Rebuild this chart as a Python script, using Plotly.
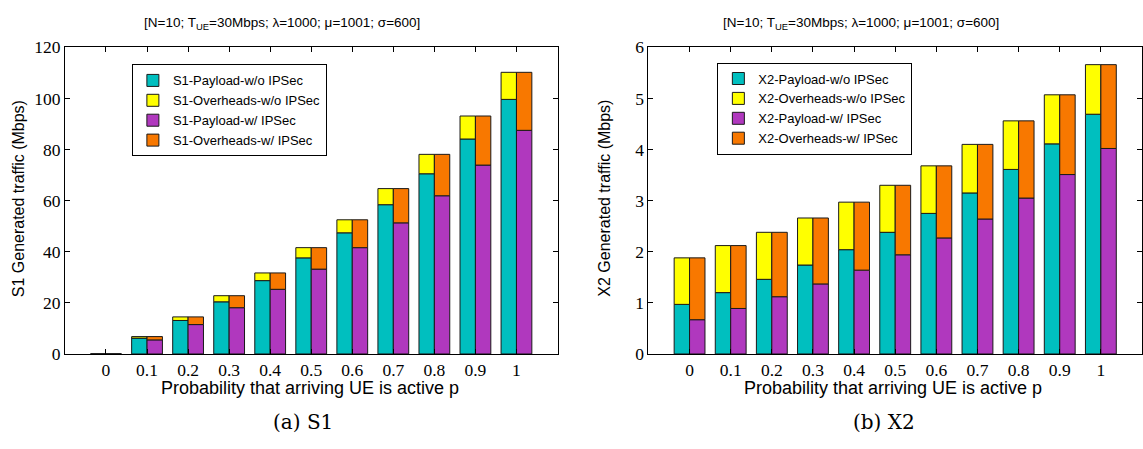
import plotly.graph_objects as go

# Probability that an arriving UE is active
p_values = [0.0, 0.1, 0.2, 0.3, 0.4, 0.5, 0.6, 0.7, 0.8, 0.9, 1.0]
p_labels = ["0", "0.1", "0.2", "0.3", "0.4", "0.5", "0.6", "0.7", "0.8", "0.9", "1"]

# S1 generated traffic (Mbps)
s1_payload_no_ipsec = [0.0, 6.2, 13.1, 20.4, 28.7, 37.6, 47.4, 58.4, 70.5, 84.1, 99.6]
s1_overhead_no_ipsec = [0.0, 0.6, 1.4, 2.4, 3.0, 4.0, 5.1, 6.3, 7.6, 9.0, 10.6]
s1_payload_ipsec = [0.0, 5.5, 11.5, 18.1, 25.3, 33.2, 41.6, 51.3, 61.9, 73.9, 87.5]
s1_overhead_ipsec = [0.0, 1.3, 3.0, 4.7, 6.4, 8.4, 10.9, 13.4, 16.2, 19.2, 22.7]

# X2 generated traffic (Mbps)
x2_payload_no_ipsec = [0.97, 1.20, 1.46, 1.74, 2.04, 2.38, 2.75, 3.15, 3.61, 4.11, 4.69]
x2_overhead_no_ipsec = [0.91, 0.92, 0.92, 0.92, 0.93, 0.92, 0.93, 0.95, 0.95, 0.96, 0.97]
x2_payload_ipsec = [0.67, 0.89, 1.12, 1.37, 1.64, 1.94, 2.27, 2.64, 3.05, 3.51, 4.02]
x2_overhead_ipsec = [1.21, 1.23, 1.26, 1.29, 1.33, 1.36, 1.41, 1.46, 1.51, 1.56, 1.64]

TEAL = "#00BFBF"
YELLOW = "#FFFF00"
PURPLE = "#B038BE"
ORANGE = "#F87800"
EDGE = "#1a1a1a"
BAR_W = 0.0375

W, H = 1143, 449


def add_stack(fig, prefix, xa, ya, legend, pay_no, ovh_no, pay_ip, ovh_ip):
    specs = [
        (f"{prefix}-Payload-w/o IPSec", pay_no, None, -BAR_W, TEAL),
        (f"{prefix}-Overheads-w/o IPSec", ovh_no, pay_no, -BAR_W, YELLOW),
        (f"{prefix}-Payload-w/ IPSec", pay_ip, None, 0.0, PURPLE),
        (f"{prefix}-Overheads-w/ IPSec", ovh_ip, pay_ip, 0.0, ORANGE),
    ]
    for name, vals, base, off, color in specs:
        fig.add_trace(go.Bar(
            x=p_values, y=vals, base=base, name=name,
            width=BAR_W, offset=off,
            marker=dict(color=color, line=dict(color=EDGE, width=1)),
            xaxis=xa, yaxis=ya, legend=legend,
        ))


fig = go.Figure()
add_stack(fig, "S1", "x", "y", "legend",
          s1_payload_no_ipsec, s1_overhead_no_ipsec, s1_payload_ipsec, s1_overhead_ipsec)
add_stack(fig, "X2", "x2", "y2", "legend2",
          x2_payload_no_ipsec, x2_overhead_no_ipsec, x2_payload_ipsec, x2_overhead_ipsec)

y_dom = [(H - 360) / H, (H - 39) / H]
tick_font = dict(family="Liberation Serif", size=17.5, color="black")

axis_common = dict(
    showline=True, linecolor="black", linewidth=1, mirror="allticks",
    ticks="inside", ticklen=5, tickcolor="black", showgrid=False,
    zeroline=False, tickfont=tick_font,
)

legend_style = dict(
    xanchor="left", yanchor="top",
    bgcolor="white", bordercolor="black", borderwidth=1,
    font=dict(family="Liberation Sans", size=13, color="black"),
    tracegroupgap=0, itemwidth=30,
)

fig.update_layout(
    width=W, height=H,
    margin=dict(l=0, r=0, t=0, b=0),
    paper_bgcolor="white", plot_bgcolor="white",
    barmode="overlay",
    showlegend=True,
    xaxis=dict(domain=[65 / W, 558 / W], range=[-0.1, 1.1],
               tickvals=p_values, ticktext=p_labels, anchor="y", **axis_common),
    yaxis=dict(domain=y_dom, range=[0, 120], tickvals=[0, 20, 40, 60, 80, 100, 120],
               anchor="x", **axis_common),
    xaxis2=dict(domain=[649 / W, 1.0], range=[-0.1, 1.1],
                tickvals=p_values, ticktext=p_labels, anchor="y2", **axis_common),
    yaxis2=dict(domain=y_dom, range=[0, 6], tickvals=[0, 1, 2, 3, 4, 5, 6],
                anchor="x2", **axis_common),
    legend=dict(x=132 / W, y=1 - 57 / H, **legend_style),
    legend2=dict(x=718 / W, y=1 - 55 / H, **legend_style),
)

title_text = "[N=10; T<sub>UE</sub>=30Mbps; λ=1000; μ=1001; σ=600]"
xlabel = "Probability that arriving UE is active p"
sans = dict(family="Liberation Sans", color="black")
serif = dict(family="DejaVu Serif", color="black")

annotations = [
    dict(x=282 / W, y=1 - 14 / H, text=title_text, font=dict(size=13.5, **sans)),
    dict(x=862 / W, y=1 - 14 / H, text=title_text, font=dict(size=13.5, **sans)),
    dict(x=310 / W, y=1 - 396 / H, text=xlabel, font=dict(size=18, **sans)),
    dict(x=894 / W, y=1 - 396 / H, text=xlabel, font=dict(size=18, **sans)),
    dict(x=18 / W, y=1 - 197 / H, text="S1 Generated traffic (Mbps)", textangle=-90,
         font=dict(size=16, **sans)),
    dict(x=605 / W, y=1 - 197 / H, text="X2 Generated traffic (Mbps)", textangle=-90,
         font=dict(size=16, **sans)),
    dict(x=303 / W, y=1 - 431 / H, text="(a) S1", font=dict(size=20, **serif)),
    dict(x=885 / W, y=1 - 431 / H, text="(b) X2", font=dict(size=20, **serif)),
]
for a in annotations:
    a.update(xref="paper", yref="paper", showarrow=False, xanchor="center", yanchor="middle")
fig.update_layout(annotations=annotations)

fig.write_html("out.html", post_script="document.body.style.margin='0px';")
